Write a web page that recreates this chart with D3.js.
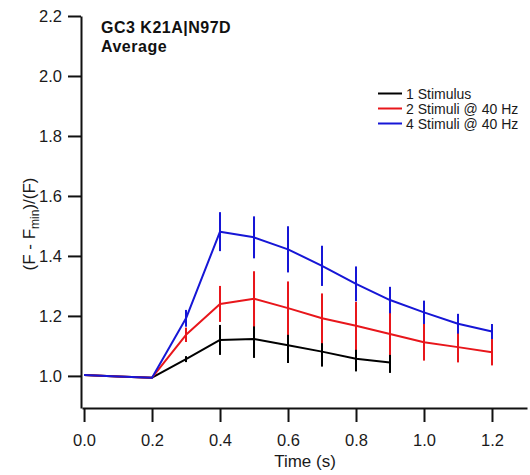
<!DOCTYPE html>
<html>
<head>
<meta charset="utf-8">
<script src="https://cdn.jsdelivr.net/npm/d3@7"></script>
<style>
  body { margin: 0; background: #fff; }
  svg { display: block; font-family: "Liberation Sans", Arial, sans-serif; }
  .axis path, .axis line { stroke: #111; stroke-width: 2px; }
  .axis text { fill: #1a1a1a; font-size: 16.5px; }
</style>
</head>
<body>
<div id="chart"></div>
<script>
// time points (s)
var times = [0, 0.1, 0.2, 0.3, 0.4, 0.5, 0.6, 0.7, 0.8, 0.9, 1.0, 1.1, 1.2];

// 1 stimulus (stops at 0.9 s)
var oneStim = [1.003, 0.998, 0.994, 1.056, 1.120, 1.123, 1.102, 1.081, 1.057, 1.045];
var oneStimErr = [0, 0, 0, 0.010, 0.050, 0.063, 0.059, 0.050, 0.042, 0.035];

// 2 stimuli @ 40 Hz
var twoStim = [1.003, 0.998, 0.994, 1.137, 1.240, 1.257, 1.226, 1.192, 1.167, 1.140, 1.112, 1.096, 1.079];
var twoStimErr = [0, 0, 0, 0.024, 0.060, 0.092, 0.089, 0.083, 0.080, 0.070, 0.061, 0.051, 0.044];

// 4 stimuli @ 40 Hz
var fourStim = [1.003, 0.998, 0.994, 1.192, 1.481, 1.462, 1.422, 1.367, 1.307, 1.253, 1.212, 1.174, 1.148];
var fourStimErr = [0, 0, 0, 0.028, 0.065, 0.070, 0.077, 0.067, 0.058, 0.044, 0.039, 0.033, 0.025];

var seriesNames = ["1 Stimulus", "2 Stimuli @ 40 Hz", "4 Stimuli @ 40 Hz"];
var seriesColors = ["#000000", "#e8161b", "#1616d6"];

var xTicks = [0, 0.2, 0.4, 0.6, 0.8, 1.0, 1.2];
var yTicks = [1.0, 1.2, 1.4, 1.6, 1.8, 2.0, 2.2];

var series = [
  {name: seriesNames[0], color: seriesColors[0], vals: oneStim, err: oneStimErr},
  {name: seriesNames[1], color: seriesColors[1], vals: twoStim, err: twoStimErr},
  {name: seriesNames[2], color: seriesColors[2], vals: fourStim, err: fourStimErr}
];

var W = 530, H = 475;
var svg = d3.select("#chart").append("svg").attr("width", W).attr("height", H);

var x = d3.scaleLinear().domain([-0.006, 1.303]).range([82, 527]);
var y = d3.scaleLinear().domain([0.893, 2.2]).range([408, 16]);

// axes
svg.append("g").attr("class", "axis")
  .attr("transform", "translate(0,408)")
  .call(d3.axisBottom(x).tickValues(xTicks).tickFormat(d3.format(".1f"))
    .tickSize(14).tickSizeOuter(0).tickPadding(12));

svg.append("g").attr("class", "axis")
  .attr("transform", "translate(81,0)")
  .call(d3.axisLeft(y).tickValues(yTicks).tickFormat(d3.format(".1f"))
    .tickSize(13).tickSizeOuter(0).tickPadding(6));

// axis titles
svg.append("text")
  .attr("x", 305).attr("y", 467)
  .attr("text-anchor", "middle")
  .style("font-size", "17px").style("fill", "#1a1a1a")
  .text("Time (s)");

var yl = svg.append("text")
  .attr("transform", "translate(35,224) rotate(-90)")
  .attr("text-anchor", "middle")
  .style("font-size", "17px").style("fill", "#1a1a1a");
yl.append("tspan").text("(F - F");
yl.append("tspan").attr("dy", 4).style("font-size", "12px").text("min");
yl.append("tspan").attr("dy", -4).text(")/(F)");

// title
svg.append("text").attr("x", 101).attr("y", 33)
  .style("font-size", "16px").style("font-weight", "bold").style("letter-spacing", "0.5px")
  .style("fill", "#111").text("GC3 K21A|N97D");
svg.append("text").attr("x", 101).attr("y", 52)
  .style("font-size", "16px").style("font-weight", "bold").style("letter-spacing", "0.5px")
  .style("fill", "#111").text("Average");

// traces with error bars
var line = d3.line()
  .x(function(d) { return x(d.t); })
  .y(function(d) { return y(d.v); });

series.forEach(function(s) {
  var pts = s.vals.map(function(v, i) { return {t: times[i], v: v, e: s.err[i]}; });
  var g = svg.append("g");
  g.append("path").datum(pts)
    .attr("d", line)
    .attr("fill", "none")
    .attr("stroke", s.color)
    .attr("stroke-width", 2)
    .attr("stroke-linejoin", "round");
  g.selectAll("line.err").data(pts.filter(function(d) { return d.e > 0; })).enter()
    .append("line")
    .attr("class", "err")
    .attr("x1", function(d) { return x(d.t); })
    .attr("x2", function(d) { return x(d.t); })
    .attr("y1", function(d) { return y(d.v - d.e); })
    .attr("y2", function(d) { return y(d.v + d.e); })
    .attr("stroke", s.color)
    .attr("stroke-width", 2);
});

// legend
var leg = svg.append("g").attr("transform", "translate(378,93.5)");
series.forEach(function(s, i) {
  leg.append("line")
    .attr("x1", 0).attr("x2", 24)
    .attr("y1", i * 15).attr("y2", i * 15)
    .attr("stroke", s.color).attr("stroke-width", 2);
  leg.append("text")
    .attr("x", 28).attr("y", i * 15 + 5)
    .style("font-size", "14px").style("fill", "#1a1a1a")
    .text(s.name);
});
</script>
</body>
</html>
